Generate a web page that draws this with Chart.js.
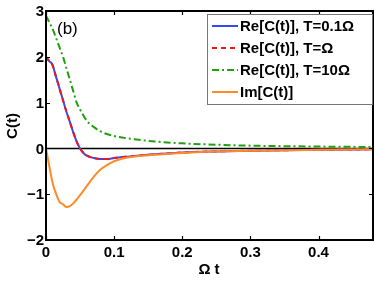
<!DOCTYPE html>
<html><head><meta charset="utf-8">
<script src="https://cdn.jsdelivr.net/npm/chart.js@4.4.0/dist/chart.umd.min.js"></script>
<style>html,body{margin:0;padding:0;background:#fff}#w{width:374px;height:281px}</style>
</head><body><div id="w"><canvas id="c"></canvas></div>
<script>
const tRe = [0,0.005,0.009,0.015,0.02,0.025,0.03,0.035,0.04,0.045,0.05,0.055,0.06,0.07,0.08,0.09,0.1,0.12,0.15,0.2,0.25,0.3,0.4,0.48];
const reLow = [2.0,1.9,1.84,1.55,1.3,1.05,0.8,0.58,0.35,0.15,0.0,-0.1,-0.16,-0.21,-0.23,-0.23,-0.21,-0.18,-0.14,-0.09,-0.065,-0.05,-0.03,-0.02];
const reMid = [2.0,1.9,1.84,1.55,1.3,1.05,0.8,0.58,0.35,0.15,0.0,-0.1,-0.16,-0.21,-0.23,-0.23,-0.21,-0.18,-0.14,-0.09,-0.065,-0.05,-0.03,-0.02];
const tHi = [0,0.005,0.01,0.015,0.02,0.025,0.03,0.035,0.04,0.045,0.05,0.06,0.07,0.08,0.1,0.13,0.16,0.2,0.25,0.3,0.4,0.48];
const reHigh = [2.9,2.75,2.6,2.4,2.2,2.0,1.75,1.5,1.25,1.0,0.85,0.6,0.47,0.37,0.27,0.2,0.15,0.11,0.08,0.06,0.04,0.03];
const tIm = [0,0.005,0.01,0.015,0.02,0.025,0.03,0.035,0.04,0.05,0.06,0.07,0.08,0.09,0.1,0.12,0.15,0.2,0.25,0.3,0.4,0.48];
const imC = [0,-0.4,-0.77,-1.0,-1.17,-1.22,-1.28,-1.26,-1.2,-1.02,-0.82,-0.62,-0.46,-0.36,-0.28,-0.2,-0.15,-0.1,-0.07,-0.05,-0.03,-0.02];
const xTicks = [0,0.1,0.2,0.3,0.4];
const yTicks = [-2,-1,0,1,2,3];
const labels = ['Re[C(t)], T=0.1\u03A9','Re[C(t)], T=\u03A9','Re[C(t)], T=10\u03A9','Im[C(t)]'];

const pts = (xs, ys) => xs.map((x,i)=>({x:x,y:ys[i]}));
const FONT = '"Liberation Sans", Arial, sans-serif';

const deco = {
  id:'deco',
  beforeDatasetsDraw(ch){
    const {ctx, chartArea:a, scales:{x,y}} = ch;
    ctx.save();
    ctx.strokeStyle='#000'; ctx.lineWidth=1.5;
    const y0=y.getPixelForValue(0);
    ctx.beginPath(); ctx.moveTo(a.left,y0); ctx.lineTo(a.right,y0); ctx.stroke();
    ctx.restore();
  },
  afterDatasetsDraw(ch){
    const {ctx, chartArea:a, scales:{x,y}} = ch;
    ctx.save();
    ctx.strokeStyle='#000'; ctx.lineWidth=2;
    ctx.strokeRect(a.left,a.top,a.right-a.left,a.bottom-a.top);
    ctx.lineWidth=1.2;
    const L=4;
    xTicks.forEach(v=>{const p=Math.round(x.getPixelForValue(v))+0.5;
      ctx.beginPath();ctx.moveTo(p,a.bottom);ctx.lineTo(p,a.bottom-L);ctx.moveTo(p,a.top);ctx.lineTo(p,a.top+L);ctx.stroke();});
    yTicks.forEach(v=>{const p=Math.round(y.getPixelForValue(v))+0.5;
      ctx.beginPath();ctx.moveTo(a.left,p);ctx.lineTo(a.left+L,p);ctx.moveTo(a.right,p);ctx.lineTo(a.right-L,p);ctx.stroke();});
    ctx.fillStyle='#000';
    ctx.font='bold 15px '+FONT;
    ctx.textAlign='center'; ctx.textBaseline='middle';
    xTicks.forEach(v=>ctx.fillText(String(v),x.getPixelForValue(v),a.bottom+13));
    ctx.textAlign='right';
    yTicks.forEach(v=>ctx.fillText(v<0?'\u2212'+(-v):String(v),a.left-2,y.getPixelForValue(v)+1));
    ctx.textAlign='center';
    ctx.fillText('\u03A9 t',209,270);
    ctx.save(); ctx.translate(13,126); ctx.rotate(-Math.PI/2); ctx.fillText('C(t)',0,0); ctx.restore();
    ctx.font='17px '+FONT; ctx.textAlign='left';
    ctx.fillText('(b)',57,29);
    // legend
    const bx=207, by=14, bw=a.right-207, bh=91;
    ctx.fillStyle='#fff'; ctx.fillRect(bx,by,bw,bh);
    ctx.strokeStyle='#777'; ctx.lineWidth=1; ctx.strokeRect(bx+0.5,by+0.5,bw-1,bh-1);
    const rows=[26,48,70,92];
    const widths=[124,98,120,80];
    ch.data.datasets.forEach((d,i)=>{
      ctx.strokeStyle=d.borderColor; ctx.lineWidth=2; ctx.setLineDash(d.borderDash||[]);
      ctx.beginPath(); ctx.moveTo(212,rows[i]); ctx.lineTo(238,rows[i]); ctx.stroke();
      ctx.setLineDash([]);
      ctx.fillStyle='#000'; ctx.font='bold 15px '+FONT; ctx.textAlign='left';
      ctx.fillText(d.label,240,rows[i]+1,widths[i]);
    });
    ctx.restore();
  }
};

new Chart(document.getElementById('c'),{
  type:'line',
  data:{datasets:[
    {label:labels[0],data:pts(tRe,reLow),borderColor:'#2f4ff5',borderWidth:2,order:4},
    {label:labels[1],data:pts(tRe,reMid),borderColor:'#ff1010',borderWidth:2,borderDash:[5,4],order:3},
    {label:labels[2],data:pts(tHi,reHigh),borderColor:'#22a010',borderWidth:2,borderDash:[7,3,2,3],order:2},
    {label:labels[3],data:pts(tIm,imC),borderColor:'#ff8a2a',borderWidth:2,order:1}
  ]},
  options:{
    responsive:true, maintainAspectRatio:false, animation:false,
    layout:{padding:{left:46,right:1,top:11,bottom:41}},
    elements:{point:{radius:0},line:{cubicInterpolationMode:'monotone',fill:false}},
    plugins:{legend:{display:false},tooltip:{enabled:false}},
    scales:{
      x:{type:'linear',min:0,max:0.48,display:false},
      y:{type:'linear',min:-2,max:3,display:false}
    }
  },
  plugins:[deco]
});
</script></body></html>
